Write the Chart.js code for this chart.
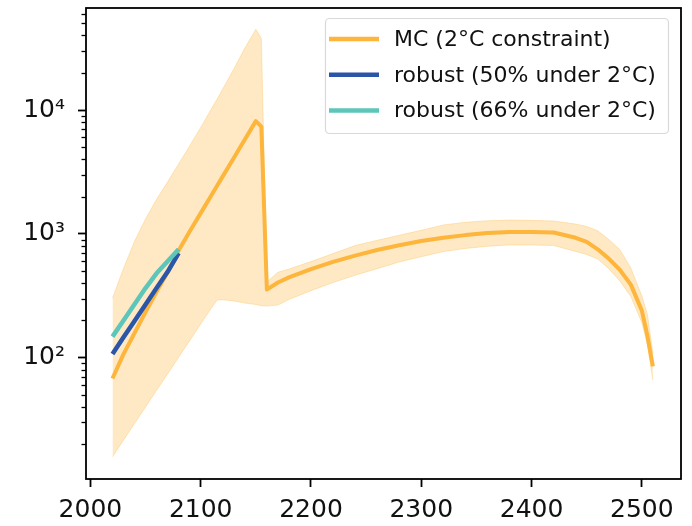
<!DOCTYPE html>
<html>
<head>
<meta charset="utf-8">
<script src="https://cdn.jsdelivr.net/npm/chart.js@4.4.0/dist/chart.umd.min.js"></script>
<style>
html,body{margin:0;padding:0;background:#fff;}
#wrap{width:692px;height:526px;}
</style>
</head>
<body>
<div id="wrap"><canvas id="c" width="692" height="526"></canvas></div>
<script>
// ---- data ----
const years = [2020, 2030, 2040, 2050, 2060, 2070, 2080, 2090, 2100, 2110, 2115, 2120, 2130, 2140, 2150, 2155, 2160, 2170, 2180, 2200, 2220, 2240, 2260, 2280, 2300, 2320, 2340, 2360, 2380, 2400, 2420, 2440, 2450, 2460, 2470, 2480, 2490, 2500, 2505, 2510];
const mcMedian = [68, 107, 158, 234, 340, 490, 735, 1045, 1470, 2070, 2455, 2910, 4100, 5770, 8130, 7330, 355, 405, 445, 520, 594, 668, 741, 809, 875, 930, 977, 1016, 1033, 1036, 1025, 930, 861, 750, 631, 513, 389, 240, 151, 85];
const mcUpper = [302, 525, 870, 1320, 1900, 2630, 3670, 5130, 7240, 10350, 12300, 14800, 21400, 31600, 44900, 38000, 408, 490, 520, 598, 693, 805, 887, 975, 1070, 1180, 1240, 1275, 1293, 1286, 1270, 1200, 1148, 1059, 900, 748, 531, 315, 225, 109];
const mcLower = [15.8, 21.6, 29.4, 40, 54.5, 74, 101, 137, 187, 254, 292, 294, 287, 276, 269, 263, 261, 266, 295, 348, 404, 463, 524, 593, 654, 719, 762, 794, 813, 813, 806, 721, 681, 626, 524, 417, 312, 192, 128, 66];
const robustYears = [2020, 2030, 2040, 2050, 2060, 2070, 2080];
const robust50 = [107, 146, 198, 269, 365, 494, 700];
const robust66 = [148, 200, 270, 365, 480, 600, 750];

const xTicks = [2000, 2100, 2200, 2300, 2400, 2500];
const xTickLabels = ['2000', '2100', '2200', '2300', '2400', '2500'];
const yTicks = [100, 1000, 10000];
const yTickLabels = ['10²', '10³', '10⁴'];
const yMinorTicks = [20, 30, 40, 50, 60, 70, 80, 90, 200, 300, 400, 500, 600, 700, 800, 900, 2000, 3000, 4000, 5000, 6000, 7000, 8000, 9000, 20000, 30000, 40000, 50000, 60000];
const legendLabels = ['MC (2°C constraint)', 'robust (50% under 2°C)', 'robust (66% under 2°C)'];

// ---- styles ----
const ORANGE = '#fdb53c';
const BLUE = '#2b56a8';
const TEAL = '#5cc6bb';
const FONT = 'DejaVu Sans';

const pts = (xs, ys) => xs.map((x, i) => ({x: x, y: ys[i]}));

const frameAndTicks = {
  id: 'frameAndTicks',
  afterDraw(chart) {
    const {ctx, chartArea: a, scales: {y}} = chart;
    ctx.save();
    ctx.strokeStyle = '#000';
    ctx.lineWidth = 1.3;
    yMinorTicks.forEach(v => {
      const py = Math.round(y.getPixelForValue(v)) + 0.5;
      ctx.beginPath();
      ctx.moveTo(a.left - 4.5, py);
      ctx.lineTo(a.left, py);
      ctx.stroke();
    });
    ctx.lineWidth = 1.8;
    ctx.strokeRect(a.left, a.top, a.right - a.left, a.bottom - a.top);
    ctx.restore();
  }
};

const legendBox = {
  id: 'legendBox',
  afterDatasetsDraw(chart) {
    const {ctx, chartArea: a} = chart;
    const items = chart.data.datasets.filter(d => d.showInLegend);
    const right = a.right - 13, top = a.top + 10;
    const w = 343, h = 115, left = right - w;
    ctx.save();
    ctx.beginPath();
    if (ctx.roundRect) ctx.roundRect(left + 0.5, top + 0.5, w, h, 4); else ctx.rect(left + 0.5, top + 0.5, w, h);
    ctx.fillStyle = 'rgba(255,255,255,0.85)';
    ctx.fill();
    ctx.strokeStyle = '#d9d9d9';
    ctx.lineWidth = 1.2;
    ctx.stroke();
    ctx.font = '22px "' + FONT + '"';
    ctx.textBaseline = 'middle';
    ctx.textAlign = 'left';
    items.forEach((d, i) => {
      const ry = top + 21 + i * 35.8;
      ctx.strokeStyle = d.borderColor;
      ctx.lineWidth = 4.5;
      ctx.lineCap = 'butt';
      ctx.beginPath();
      ctx.moveTo(left + 4, ry);
      ctx.lineTo(left + 54, ry);
      ctx.stroke();
      ctx.fillStyle = '#111';
      ctx.fillText(d.label, left + 69, ry + 1);
    });
    ctx.restore();
  }
};

const zeroPad = s => { s.paddingTop = 0; s.paddingBottom = 0; s.paddingLeft = 0; s.paddingRight = 0; };

new Chart(document.getElementById('c'), {
  type: 'line',
  data: {
    datasets: [
      {label: 'upper', data: pts(years, mcUpper), fill: '+1', backgroundColor: 'rgba(253,181,60,0.3)', borderColor: 'rgba(253,181,60,0.3)', borderWidth: 1, order: 4},
      {label: 'lower', data: pts(years, mcLower), fill: false, borderColor: 'rgba(253,181,60,0.3)', borderWidth: 1, order: 5},
      {label: legendLabels[0], showInLegend: true, data: pts(years, mcMedian), fill: false, borderColor: ORANGE, borderWidth: 4, order: 2},
      {label: legendLabels[1], showInLegend: true, data: pts(robustYears, robust50), fill: false, borderColor: BLUE, borderWidth: 4.5, order: 1},
      {label: legendLabels[2], showInLegend: true, data: pts(robustYears, robust66), fill: false, borderColor: TEAL, borderWidth: 4.5, order: 0}
    ]
  },
  options: {
    responsive: false,
    animation: false,
    devicePixelRatio: 1,
    layout: {padding: {left: 0, right: 11, top: 8, bottom: 0}},
    elements: {
      point: {radius: 0, hoverRadius: 0},
      line: {tension: 0, borderJoinStyle: 'round', borderCapStyle: 'butt'}
    },
    plugins: {legend: {display: false}, tooltip: {enabled: false}},
    scales: {
      x: {
        type: 'linear', min: 1996, max: 2535.5, bounds: 'data',
        afterBuildTicks: s => { s.ticks = xTicks.map(v => ({value: v})); },
        afterFit: s => { s.height = 47; zeroPad(s); },
        grid: {drawOnChartArea: false, drawTicks: true, tickLength: 8, tickWidth: 1.8, tickColor: '#000'},
        border: {display: false},
        ticks: {autoSkip: false, maxRotation: 0, padding: 8, color: '#111', font: {family: FONT, size: 25},
          callback: v => { const i = xTicks.indexOf(v); return i >= 0 ? xTickLabels[i] : ''; }}
      },
      y: {
        type: 'logarithmic', min: 10.49, max: 66620, bounds: 'data',
        afterBuildTicks: s => { s.ticks = yTicks.map(v => ({value: v})); },
        afterFit: s => { s.width = 86; zeroPad(s); },
        grid: {drawOnChartArea: false, drawTicks: true, tickLength: 8, tickWidth: 1.8, tickColor: '#000'},
        border: {display: false},
        ticks: {autoSkip: false, padding: 13, color: '#111', font: {family: FONT, size: 25},
          callback: v => { const i = yTicks.indexOf(v); return i >= 0 ? yTickLabels[i] : ''; }}
      }
    }
  },
  plugins: [frameAndTicks, legendBox]
});
</script>
</body>
</html>
